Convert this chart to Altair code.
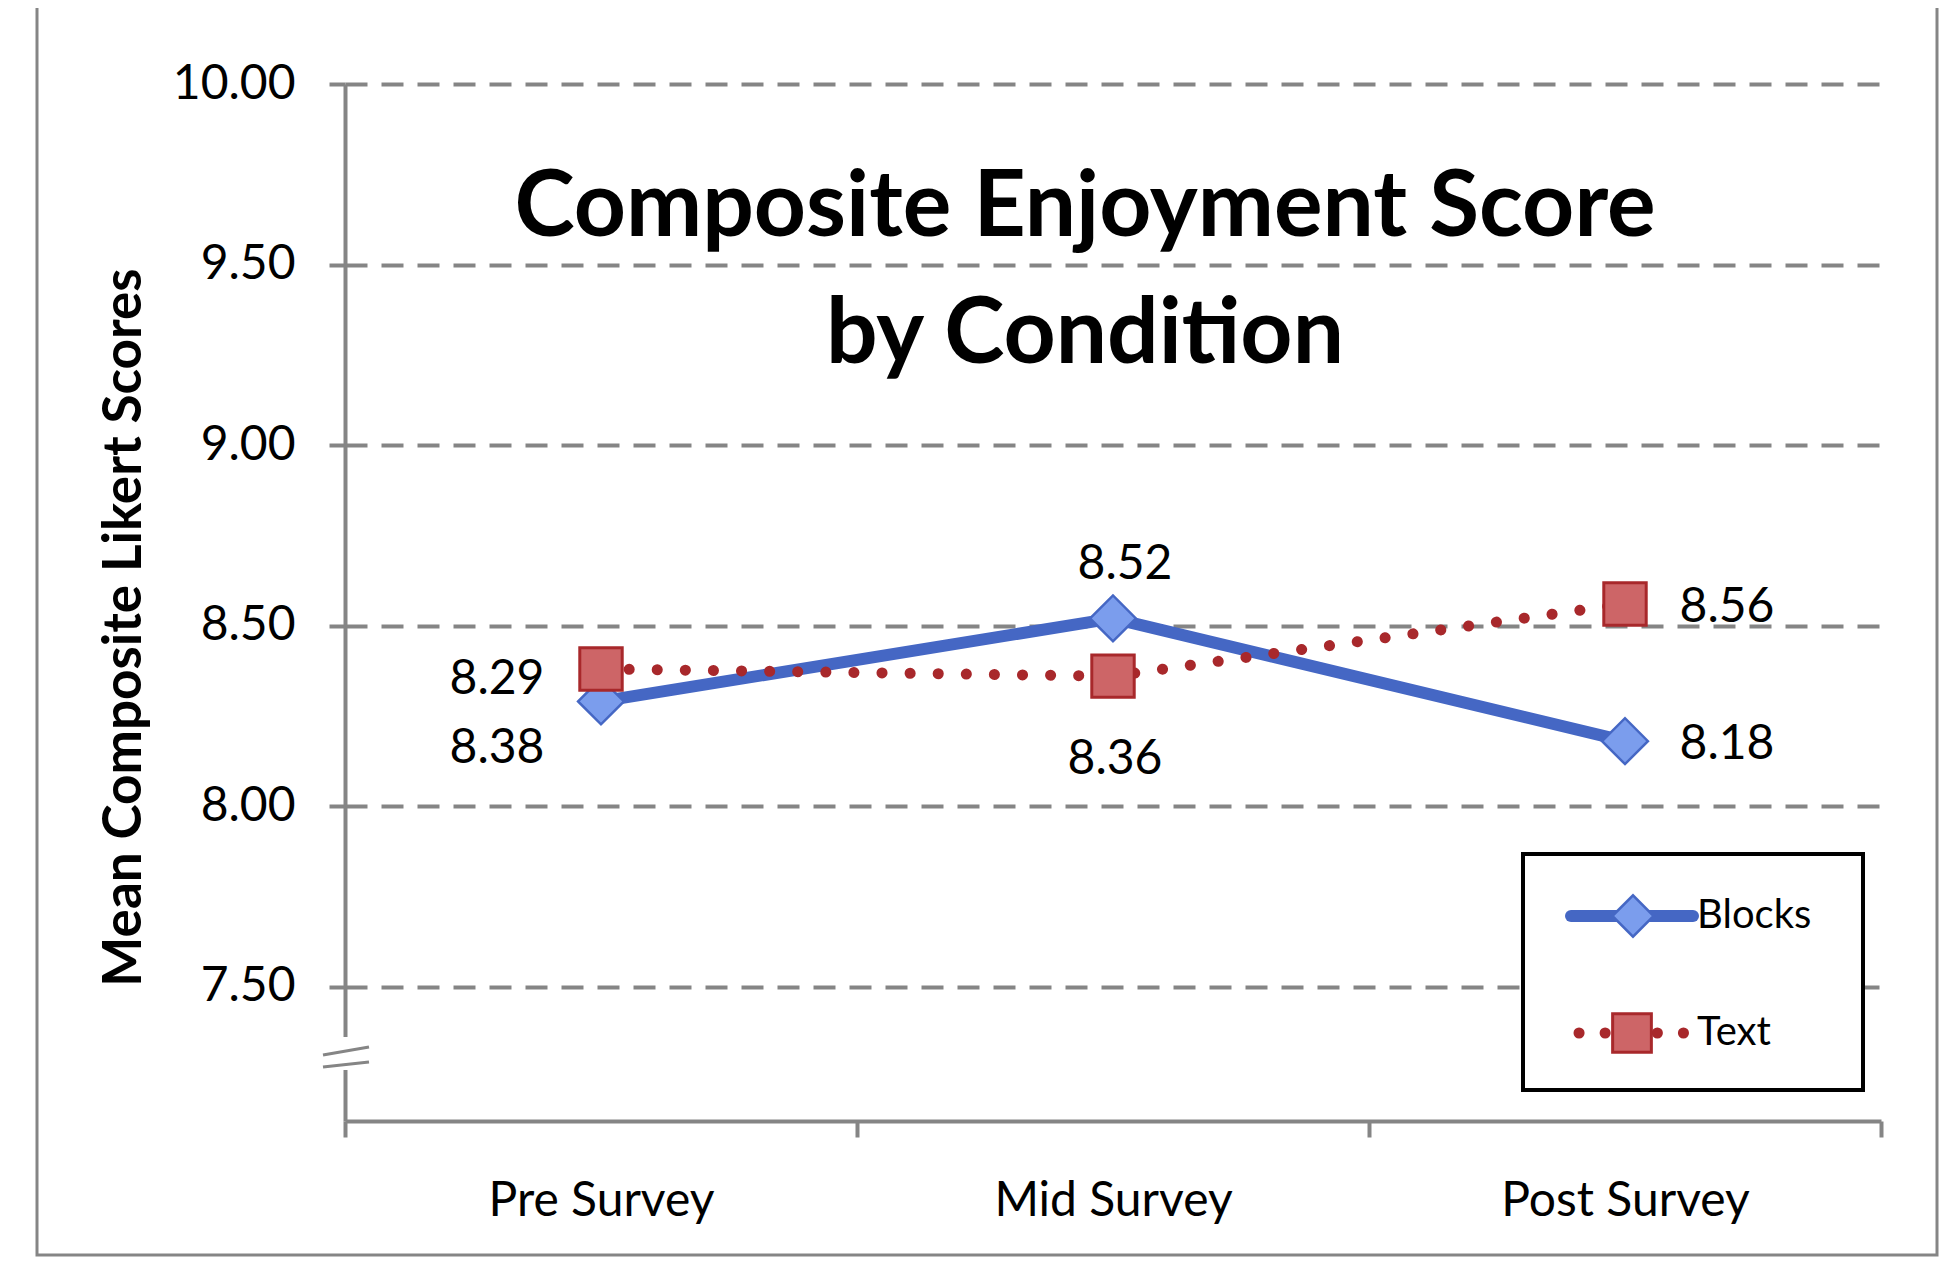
import altair as alt
import pandas as pd

# ---- data ----
categories = ["Pre Survey", "Mid Survey", "Post Survey"]
series = ["Blocks", "Text"]
blocks_vals = [8.29, 8.52, 8.18]
text_vals = [8.38, 8.36, 8.56]
y_ticks = [7.5, 8.0, 8.5, 9.0, 9.5, 10.0]
y_domain = [7.128, 10.0]
title_lines = ["Composite Enjoyment Score", "by Condition"]
y_title = "Mean Composite  Likert Scores"

df = pd.DataFrame({
    "category": categories * 2,
    "series": [series[0]] * 3 + [series[1]] * 3,
    "value": blocks_vals + text_vals,
})
one = pd.DataFrame({"k": [0]})

# ---- style ----
W, H = 1536, 1037
FONT = "Lato"
GRAY = "#858585"
BLUE = "#4567c4"
BLUE_FILL = "#7b9ded"
RED = "#a8282b"
RED_FILL = "#cd6567"

x_enc = alt.X(
    "category:N", sort=categories,
    scale=alt.Scale(type="band", domain=categories, paddingInner=0, paddingOuter=0),
    axis=alt.Axis(title=None, grid=False, domainColor=GRAY, domainWidth=4,
                  tickColor=GRAY, tickWidth=4, tickSize=16, tickBand="extent",
                  labelFont=FONT, labelFontSize=48, labelColor="black",
                  labelPadding=40, labelAngle=0, labelLimit=0),
)
y_enc = alt.Y(
    "value:Q",
    scale=alt.Scale(domain=y_domain, nice=False, zero=False),
    axis=alt.Axis(values=y_ticks, format=".2f", grid=True, gridDash=[22, 14],
                  gridColor=GRAY, gridWidth=4, domainColor=GRAY, domainWidth=4,
                  tickColor=GRAY, tickWidth=4, tickSize=16,
                  labelFont=FONT, labelFontSize=48, labelColor="black",
                  labelPadding=34, title=y_title, titleFont=FONT,
                  titleFontWeight="bold", titleFontSize=53, titleColor="black",
                  titleX=-221, titleY=543, titleAngle=270, titleAlign="center",
                  titleBaseline="middle", titleLimit=0),
)

base = alt.Chart(df).encode(x=x_enc, y=y_enc)

blocks_line = base.transform_filter(alt.datum.series == series[0]).mark_line(
    color=BLUE, strokeWidth=12, strokeJoin="round")
blocks_pts = base.transform_filter(alt.datum.series == series[0]).mark_point(
    shape="diamond", filled=True, size=2100, fill=BLUE_FILL, stroke=BLUE,
    strokeWidth=2.5, opacity=1)
text_line = base.transform_filter(alt.datum.series == series[1]).mark_line(
    color=RED, strokeWidth=11, strokeDash=[0.1, 28], strokeCap="round")
text_pts = base.transform_filter(alt.datum.series == series[1]).mark_point(
    shape="square", filled=True, size=1800, fill=RED_FILL, stroke=RED,
    strokeWidth=3, opacity=1)

# data labels (offsets are styling only)
offsets = {
    ("Blocks", "Pre Survey"): (-104, -21),
    ("Blocks", "Mid Survey"): (12, -53),
    ("Blocks", "Post Survey"): (102, 4),
    ("Text", "Pre Survey"): (-104, 80),
    ("Text", "Mid Survey"): (2, 84),
    ("Text", "Post Survey"): (102, 4),
}
label_layers = []
for (s, c), (dx, dy) in offsets.items():
    label_layers.append(
        base.transform_filter((alt.datum.series == s) & (alt.datum.category == c))
        .mark_text(font=FONT, fontSize=48, color="black", dx=dx, dy=dy,
                   align="center", baseline="middle")
        .encode(text=alt.Text("value:Q", format=".2f"))
    )

# title inside the plot
title = alt.Chart(one).mark_text(
    text=title_lines, font=FONT, fontWeight="bold", fontSize=91, color="black",
    align="center", baseline="alphabetic", lineHeight=127,
).encode(x=alt.value(740), y=alt.value(152))

# outer frame
frame = alt.Chart(one).mark_rect(fill=None, stroke=GRAY, strokeWidth=3).encode(
    x=alt.value(-308), x2=alt.value(1592), y=alt.value(-78), y2=alt.value(1171))

# axis break
break_cover = alt.Chart(one).mark_rect(fill="white").encode(
    x=alt.value(-8), x2=alt.value(8), y=alt.value(953), y2=alt.value(986))
break_a = alt.Chart(one).mark_rule(color=GRAY, strokeWidth=3).encode(
    x=alt.value(-22), x2=alt.value(24), y=alt.value(971), y2=alt.value(963))
break_b = alt.Chart(one).mark_rule(color=GRAY, strokeWidth=3).encode(
    x=alt.value(-22), x2=alt.value(24), y=alt.value(983), y2=alt.value(978))

# legend (manual)
LX0, LX1, LY0, LY1 = 1178, 1518, 770, 1006
LB_Y, LT_Y = 832, 949
leg_box = alt.Chart(one).mark_rect(fill="white", stroke="black", strokeWidth=4).encode(
    x=alt.value(LX0), x2=alt.value(LX1), y=alt.value(LY0), y2=alt.value(LY1))
leg_b_line = alt.Chart(one).mark_rule(color=BLUE, strokeWidth=12, strokeCap="round").encode(
    x=alt.value(1226), x2=alt.value(1348), y=alt.value(LB_Y))
leg_b_pt = alt.Chart(one).mark_point(shape="diamond", filled=True, size=1700,
                                     fill=BLUE_FILL, stroke=BLUE, strokeWidth=2.5,
                                     opacity=1).encode(
    x=alt.value(1288), y=alt.value(LB_Y))
leg_t_line = alt.Chart(one).mark_rule(color=RED, strokeWidth=11, strokeDash=[0.1, 26],
                                      strokeCap="round").encode(
    x=alt.value(1234), x2=alt.value(1342), y=alt.value(LT_Y))
leg_t_pt = alt.Chart(one).mark_point(shape="square", filled=True, size=1500,
                                     fill=RED_FILL, stroke=RED, strokeWidth=3,
                                     opacity=1).encode(
    x=alt.value(1287), y=alt.value(LT_Y))
leg_b_txt = alt.Chart(one).mark_text(text=series[0], font=FONT, fontSize=40, color="black",
                                     align="left", baseline="middle").encode(
    x=alt.value(1352), y=alt.value(LB_Y))
leg_t_txt = alt.Chart(one).mark_text(text=series[1], font=FONT, fontSize=40, color="black",
                                     align="left", baseline="middle").encode(
    x=alt.value(1352), y=alt.value(LT_Y))

chart = alt.layer(
    blocks_line, text_line, blocks_pts, text_pts, *label_layers,
    title, frame, break_cover, break_a, break_b,
    leg_box, leg_b_line, leg_b_pt, leg_t_line, leg_t_pt, leg_b_txt, leg_t_txt,
).properties(
    width=W, height=H,
    autosize=alt.AutoSizeParams(type="none"),
    padding={"left": 337, "top": 76, "right": 58, "bottom": 137},
    background="white",
).configure_view(stroke=None)

chart.save("out.html", embed_options={"renderer": "svg", "actions": False})
